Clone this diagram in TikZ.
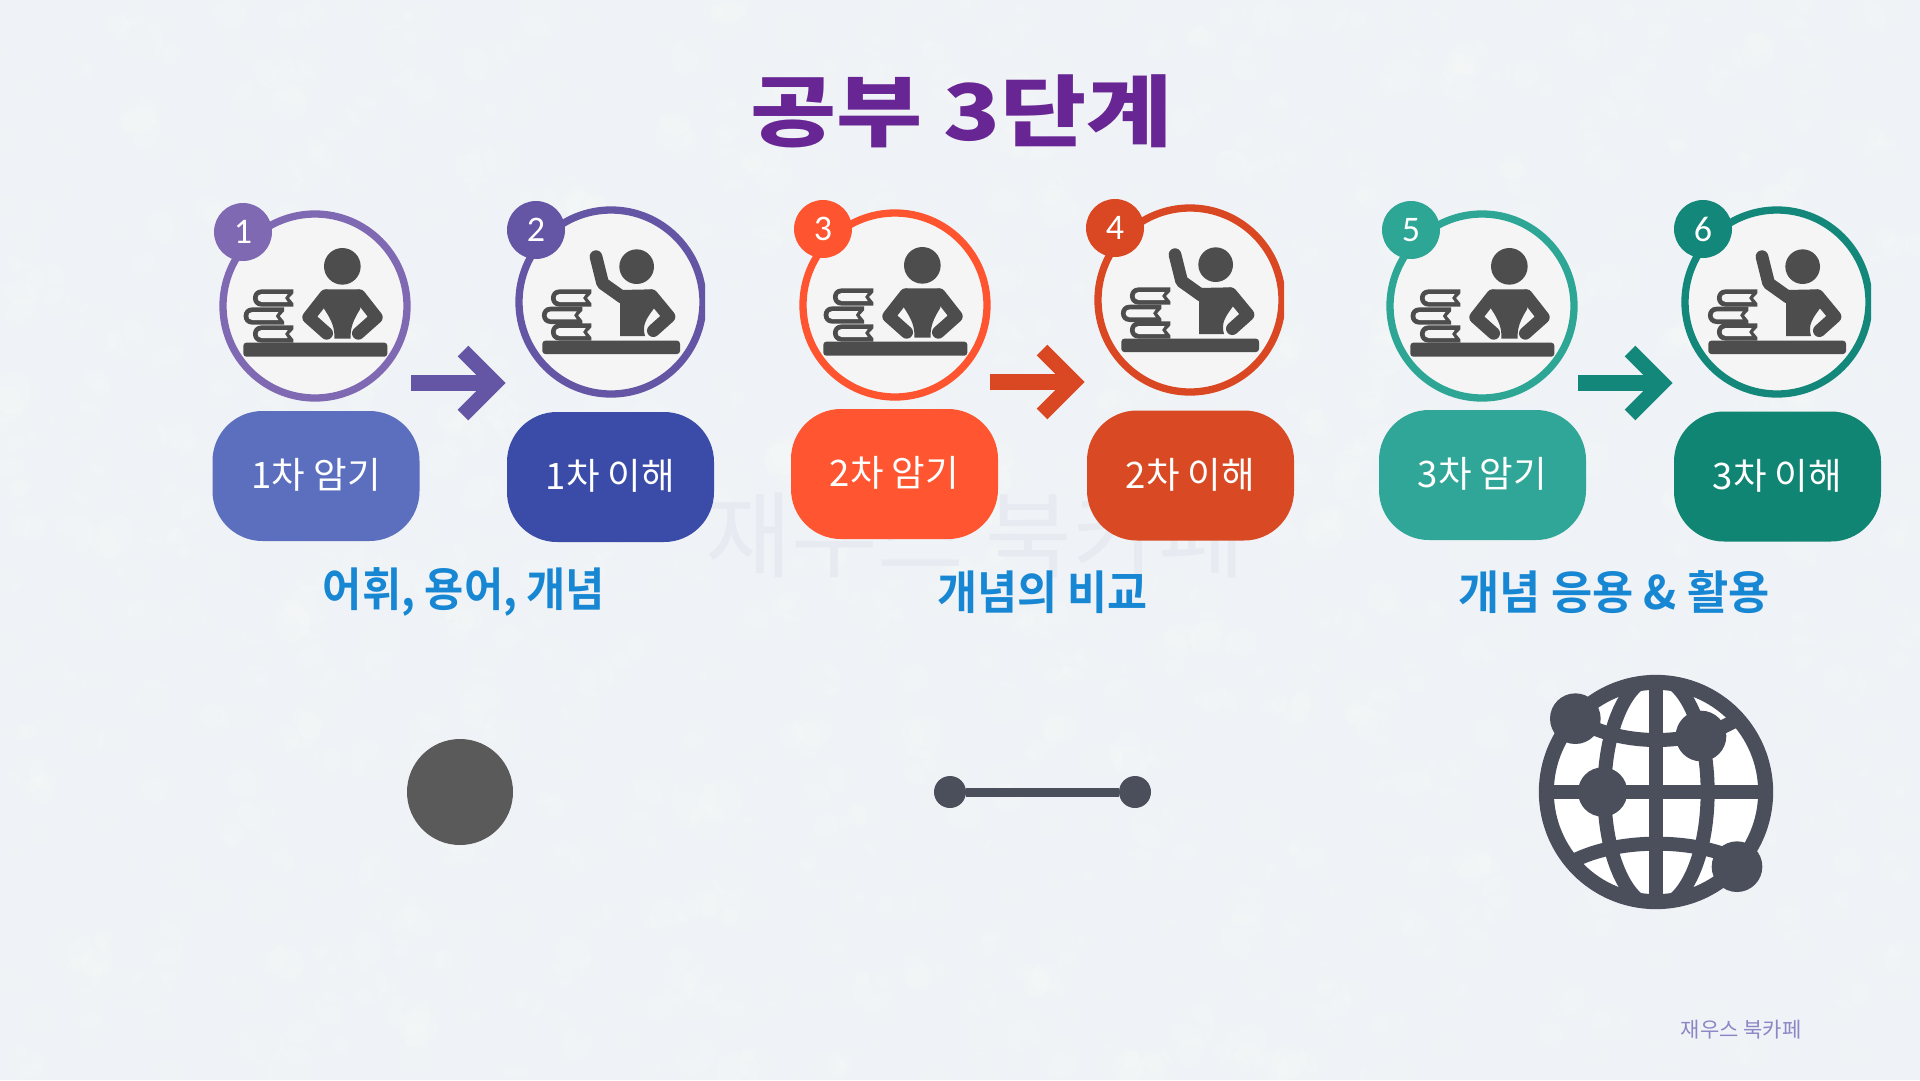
\documentclass[tikz,border=0pt]{standalone}
\usepackage{fontspec}
\usetikzlibrary{calc}
\newfontfamily\kr{Noto Sans CJK KR}
\newfontfamily\krbold{Noto Sans CJK KR Bold}
\newfontfamily\krblack{Noto Sans CJK KR Black}
\newfontfamily\dig{Carlito}
\definecolor{bgc}{HTML}{EFF2F6}
\definecolor{icon}{HTML}{4D4D4D}
\definecolor{face}{HTML}{F5F5F5}
\definecolor{gl}{HTML}{4B4F5B}
\definecolor{rA}{HTML}{8069B3}
\definecolor{rB}{HTML}{6456A4}
\definecolor{rC}{HTML}{FE5430}
\definecolor{rD}{HTML}{DA4823}
\definecolor{rE}{HTML}{2DA696}
\definecolor{rF}{HTML}{12877A}
\definecolor{pA}{HTML}{5B6FBE}
\definecolor{pB}{HTML}{3B4BA8}
\definecolor{pC}{HTML}{FF5530}
\definecolor{pD}{HTML}{D94A24}
\definecolor{pE}{HTML}{2FA697}
\definecolor{pF}{HTML}{118573}
\definecolor{HLc}{HTML}{1787D3}
\definecolor{wmc}{HTML}{E8EAF2}
\definecolor{wmb}{HTML}{8A87C6}
\definecolor{ttl}{HTML}{682694}
\definecolor{ptc}{HTML}{5A5A5A}
\newcommand\bookat[2]{%
 \begin{scope}[shift={(#1,#2)}]
 \fill[icon] (175,148) -- (80,148) .. controls (45,148) and (45,200) .. (80,200) -- (175,200) -- (175,190) -- (162,174) -- (175,160) -- cycle;
 \fill[face] (158,162) -- (80,162) .. controls (64,162) and (64,186) .. (80,186) -- (158,186) -- (150,174) -- cycle;
 \end{scope}}
\tikzset{
 x=1pt,y=-1pt,
 ring/.style={circle,draw=#1,line width=7.3pt,fill=face,minimum size=184pt,inner sep=0pt},
 badge/.style={circle,fill=#1,minimum size=58pt,inner sep=0pt,text=white,font=\dig\fontsize{36}{36}\selectfont},
 pill/.style={rectangle,rounded corners=50pt,fill=#1,minimum width=207pt,minimum height=130pt,inner sep=0pt,text=white,font=\kr\fontsize{36.5}{36.5}\selectfont},
 topic/.style={inner sep=0pt,text=HLc,yscale=1.06,font=\krbold\fontsize{43.5}{43.5}\selectfont},
 shaft/.style={draw=#1,line width=16pt},
 chev/.style={draw=#1,line width=15pt,miter limit=10},
 limb/.style={draw=icon,line width=12.7pt,line cap=round,line join=round},
 readera/.pic={
  \begin{scope}[shift={(-80,-66)},scale=1/3]
  \fill[icon,rounded corners=3pt] (25,308) rectangle (457,350);
  \bookat{0}{0}\bookat{-28}{54}\bookat{0}{108}
  \fill[icon] (322,79) circle[radius=55];
  \draw[limb] (272,167) -- (221,232) -- (275,280);
  \draw[limb] (373,167) -- (424,232) -- (370,280);
  \fill[icon] (272,148) -- (373,148) -- (385,165) -- (375,208) .. controls (355,240) and (345,265) .. (347,296) -- (298,296) .. controls (300,265) and (290,240) .. (268,208) -- (258,165) -- cycle;
  \end{scope}},
 readerb/.pic={
  \begin{scope}[shift={(-76,-62)},scale=1/3]
  \fill[icon,rounded corners=3pt] (22,302) rectangle (435,342);
  \bookat{-6}{0}\bookat{-33}{52}\bookat{-6}{102}
  \fill[icon] (305,80) circle[radius=52];
  \draw[limb] (183,50) -- (203,130) -- (262,172);
  \draw[limb] (350,167) -- (402,230) -- (355,272);
  \fill[icon] (255,150) -- (350,148) -- (365,170) -- (357,205) .. controls (335,235) and (320,255) .. (330,288) -- (255,288) -- cycle;
  \end{scope}},
}
\begin{document}
\begin{tikzpicture}
\useasboundingbox (0,0) rectangle (1920,1080);
\fill[bgc] (0,0) rectangle (1920,1080);
\pgfmathsetseed{7}
\begin{scope}
\clip (0,0) rectangle (1920,1080);
\foreach \i in {1,...,1800}{
 \pgfmathsetmacro\bx{rnd*1920}\pgfmathsetmacro\by{rnd*1080}\pgfmathsetmacro\br{5+rnd*18}
 \fill[white,opacity=.1] (\bx,\by) circle[radius=\br];
}
\end{scope}
\node[inner sep=0pt,text=wmc,font=\kr\fontsize{94}{94}\selectfont] (wm) at (975,535) {재우스 북카페};
\node[inner sep=0pt,text=ttl,xscale=1.2,font=\krblack\fontsize{78}{78}\selectfont] (title) at (961.5,111) {공부 3단계};
% readers
\node[ring=rA] (c1) at (315,306) {}; \pic at (c1) {readera};
\begin{scope}\clip (500,190) rectangle (705,420); \node[ring=rB] (c2) at (611,302) {}; \end{scope} \pic at (c2) {readerb};
\node[ring=rC] (c3) at (895,305) {}; \pic at (c3) {readera};
\begin{scope}\clip (1080,190) rectangle (1284,420); \node[ring=rD] (c4) at (1190,300) {}; \end{scope} \pic at (c4) {readerb};
\node[ring=rE] (c5) at (1482,306) {}; \pic at (c5) {readera};
\begin{scope}\clip (1660,190) rectangle (1871,420); \node[ring=rF] (c6) at (1777,302) {}; \end{scope} \pic at (c6) {readerb};
% badges
\node[badge=rA] (b1) at (243,232) {\raisebox{-1pt}{1}};
\node[badge=rB] (b2) at (536,230) {\raisebox{-1pt}{2}};
\node[badge=rC] (b3) at (823,229) {\raisebox{-1pt}{3}};
\node[badge=rD] (b4) at (1115,228) {\raisebox{-1pt}{4}};
\node[badge=rE] (b5) at (1411,230) {\raisebox{-1pt}{5}};
\node[badge=rF] (b6) at (1703,229) {\raisebox{-1pt}{6}};
% pills
\node[pill=pA] (p1) at (316,476) {\raisebox{5pt}{1차 암기}};
\node[pill=pB] (p2) at (610.5,477) {\raisebox{5pt}{1차 이해}};
\node[pill=pC] (p3) at (894.5,474) {\raisebox{5pt}{2차 암기}};
\node[pill=pD] (p4) at (1190.5,475.5) {\raisebox{5pt}{2차 이해}};
\node[pill=pE] (p5) at (1482.5,475) {\raisebox{5pt}{3차 암기}};
\node[pill=pF] (p6) at (1777.5,476.5) {\raisebox{5pt}{3차 이해}};
% arrows
\coordinate (a1s) at (411,383); \coordinate (a1t) at (495,383);
\coordinate (a2s) at (990,382); \coordinate (a2t) at (1074,382);
\coordinate (a3s) at (1578,383); \coordinate (a3t) at (1662,383);
\draw[shaft=rB] (a1s) -- (a1t);
\draw[chev=rB] ($(a1t)+(-32,-32)$) -- (a1t) -- ($(a1t)+(-32,32)$);
\draw[shaft=rD] (a2s) -- (a2t);
\draw[chev=rD] ($(a2t)+(-32,-32)$) -- (a2t) -- ($(a2t)+(-32,32)$);
\draw[shaft=rF] (a3s) -- (a3t);
\draw[chev=rF] ($(a3t)+(-32,-32)$) -- (a3t) -- ($(a3t)+(-32,32)$);
% topics
\node[topic,xscale=.98] (t1) at (464,592) {어휘, 용어, 개념};
\node[topic] (t2) at (1042.5,592) {개념의 비교};
\node[topic,xscale=1.03] (t3) at (1614,592) {개념 응용 \& 활용};
% point
\node[circle,fill=ptc,minimum size=106pt,inner sep=0pt] (pt) at (460,792) {};
% line
\node[circle,fill=gl,minimum size=32pt,inner sep=0pt] (l1) at (950,792) {};
\node[circle,fill=gl,minimum size=32pt,inner sep=0pt] (l2) at (1135,792) {};
\draw[gl,line width=9pt] (l1) -- (l2);
% globe
\begin{scope}[shift={(1500,660)},scale=1/3]
 \fill[white] (468,396) circle[radius=345];
 \begin{scope}
 \clip (468,396) circle[radius=345];
 \draw[gl,line width=14pt] (468,40) -- (468,750);
 \draw[gl,line width=14pt] (110,396) -- (830,396);
 \draw[gl,line width=14pt] (468,396) ellipse[x radius=155,y radius=345];
 \draw[gl,line width=14pt] (190,150) .. controls (330,270) and (610,270) .. (750,150);
 \draw[gl,line width=14pt] (190,620) .. controls (330,528) and (610,528) .. (750,620);
 \end{scope}
 \draw[gl,line width=15pt] (468,396) circle[radius=329];
 \fill[gl] (226,176) circle[radius=76];
 \fill[gl] (603,228) circle[radius=76];
 \fill[gl] (308,396) circle[radius=74];
 \fill[gl] (711,620) circle[radius=76];
\end{scope}
\node[inner sep=0pt,text=wmb,font=\kr\fontsize{21}{21}\selectfont] (cr) at (1741,1029.5) {재우스 북카페};
\end{tikzpicture}
\end{document}
